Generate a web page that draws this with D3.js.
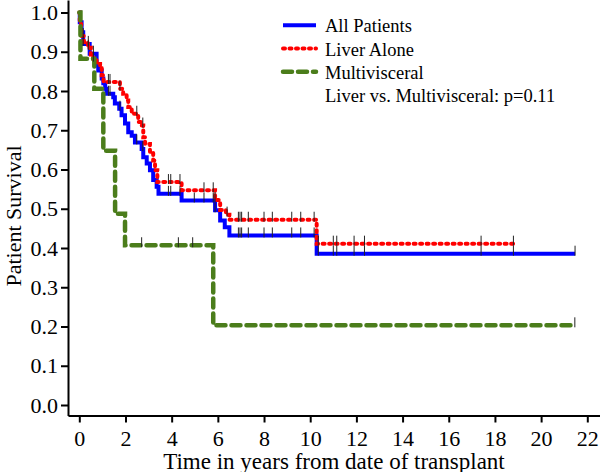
<!DOCTYPE html>
<html>
<head>
<meta charset="utf-8">
<script src="https://cdn.jsdelivr.net/npm/d3@7"></script>
<style>
  html, body { margin: 0; padding: 0; background: #fff; }
  svg { display: block; }
</style>
</head>
<body>
<svg id="chart" width="600" height="472"></svg>
<script>
// ---------------- data ----------------
const seriesNames = ["All Patients", "Liver Alone", "Multivisceral"];
const pValueText = "Liver vs. Multivisceral: p=0.11";

const allTimes = [0, 0.02, 0.1, 0.17, 0.45, 0.75, 0.82, 0.97, 1.04, 1.12, 1.18, 1.47, 1.54, 1.73, 1.83, 1.98, 2.12, 2.27, 2.41, 2.7, 2.77, 2.92, 3.06, 3.2, 3.35, 3.43, 4.43, 5.88, 6.1, 6.3, 6.5, 10.28];
const allSurv  = [1.0, 0.975, 0.95, 0.92, 0.895, 0.865, 0.852, 0.832, 0.82, 0.806, 0.793, 0.784, 0.768, 0.755, 0.738, 0.717, 0.695, 0.686, 0.669, 0.652, 0.631, 0.615, 0.598, 0.573, 0.556, 0.538, 0.521, 0.496, 0.47, 0.453, 0.432, 0.3855];
const allEnd = 21.47;
const allCensor = [0.17, 0.39, 0.61, 1.26, 1.33, 1.76, 2.49, 2.75, 3.86, 3.96, 4.36, 4.98, 5.4, 5.8, 5.88, 6.89, 6.96, 7.03, 7.32, 8.0, 8.36, 9.2, 9.59, 10.17, 10.35, 11.0, 11.15, 11.9, 12.35, 17.4, 18.8, 21.47];

const liverTimes = [0, 0.02, 0.08, 0.2, 0.37, 0.5, 0.6, 0.75, 0.9, 0.97, 1.05, 1.76, 1.9, 2.05, 2.12, 2.27, 2.55, 2.7, 2.77, 2.85, 3.06, 3.2, 3.28, 3.38, 4.43, 5.88, 6.1, 6.35, 6.5, 10.28];
const liverSurv  = [1.0, 0.975, 0.94, 0.925, 0.91, 0.893, 0.88, 0.869, 0.86, 0.84, 0.823, 0.806, 0.793, 0.776, 0.759, 0.742, 0.721, 0.712, 0.682, 0.665, 0.644, 0.623, 0.598, 0.568, 0.547, 0.522, 0.497, 0.485, 0.472, 0.411];
const liverEnd = 18.8;
const liverCensor = [0.17, 0.39, 0.61, 1.26, 1.33, 1.76, 2.49, 2.75, 3.86, 3.96, 4.36, 5.4, 5.8, 5.88, 6.4, 6.89, 6.96, 7.03, 7.32, 8.0, 8.36, 9.2, 9.59, 10.17, 10.35, 11.0, 11.15, 11.9, 12.35, 17.4, 18.8];

const multiTimes = [0, 0.05, 0.65, 1.04, 1.55, 1.98, 5.8];
const multiSurv  = [1.0, 0.882, 0.806, 0.648, 0.487, 0.407, 0.203];
const multiEnd = 21.46;
const multiCensor = [2.7, 4.29, 4.91, 21.46];

const xTicks = [0, 2, 4, 6, 8, 10, 12, 14, 16, 18, 20, 22];
const yTicks = [0, 0.1, 0.2, 0.3, 0.4, 0.5, 0.6, 0.7, 0.8, 0.9, 1.0];

// ---------------- layout ----------------
const FONT = "Liberation Serif, Tinos, DejaVu Serif, serif";
const svg = d3.select("#chart");
const x = d3.scaleLinear().domain([0, 22]).range([79.3, 587.3]);
const y = d3.scaleLinear().domain([0, 1]).range([405, 12.5]);

const spineLeftX = 68, spineBottomY = 415.5;
const xAxisScale = d3.scaleLinear().domain([x.invert(spineLeftX), x.invert(600)]).range([spineLeftX, 600]);
const yAxisScale = d3.scaleLinear().domain([y.invert(spineBottomY), y.invert(0)]).range([spineBottomY, 0]);

// axes
const gx = svg.append("g").attr("transform", `translate(0,${spineBottomY})`)
  .call(d3.axisBottom(xAxisScale).tickValues(xTicks).tickSize(7).tickSizeOuter(0).tickPadding(6).tickFormat(d3.format("d")));
const gy = svg.append("g").attr("transform", `translate(${spineLeftX},0)`)
  .call(d3.axisLeft(yAxisScale).tickValues(yTicks).tickSize(7).tickSizeOuter(0).tickPadding(3).tickFormat(d3.format(".1f")));
[gx, gy].forEach(g => {
  g.attr("font-family", FONT).attr("font-size", 22);
  g.select(".domain").attr("stroke", "#000").attr("stroke-width", 2);
  g.selectAll(".tick line").attr("stroke", "#000").attr("stroke-width", 2);
  g.selectAll(".tick text").attr("fill", "#000");
});
gx.selectAll(".tick text").attr("dy", null).attr("y", 30.5);

// axis titles
svg.append("text").attr("x", 334).attr("y", 469).attr("text-anchor", "middle")
  .attr("font-family", FONT).attr("font-size", 23).text("Time in years from date of transplant");
svg.append("text").attr("transform", "translate(21,216) rotate(-90)").attr("text-anchor", "middle")
  .attr("font-family", FONT).attr("font-size", 22).text("Patient Survival");

// ---------------- curves ----------------
function stepData(times, surv, end) {
  const pts = times.map((t, i) => [t, surv[i]]);
  pts.push([end, surv[surv.length - 1]]);
  return pts;
}
function survAt(times, surv, t) {
  let v = surv[0];
  for (let i = 0; i < times.length; i++) if (times[i] <= t) v = surv[i];
  return v;
}
const line = d3.line().x(d => x(d[0])).y(d => y(d[1])).curve(d3.curveStepAfter);

const series = [
  { name: seriesNames[0], times: allTimes, surv: allSurv, end: allEnd, censor: allCensor, color: "#0000ff", dash: null, cap: "butt", width: 4 },
  { name: seriesNames[1], times: liverTimes, surv: liverSurv, end: liverEnd, censor: liverCensor, color: "#ff0000", dash: "2,4.5", cap: "round", width: 4 },
  { name: seriesNames[2], times: multiTimes, surv: multiSurv, end: multiEnd, censor: multiCensor, color: "#4b7d1b", dash: "9,6", cap: "round", width: 4.5 }
];

series.forEach(s => {
  svg.append("path").datum(stepData(s.times, s.surv, s.end))
    .attr("d", line).attr("fill", "none").attr("stroke", s.color)
    .attr("stroke-width", s.width).attr("stroke-linecap", s.cap).attr("stroke-linejoin", "miter")
    .attr("stroke-dasharray", s.dash);
});
series.forEach(s => {
  svg.append("g").selectAll("line").data(s.censor).join("line")
    .attr("x1", d => x(d)).attr("x2", d => x(d))
    .attr("y1", d => y(survAt(s.times, s.surv, d)) - 8)
    .attr("y2", d => y(survAt(s.times, s.surv, d)) + 2)
    .attr("stroke", "#222").attr("stroke-width", 1);
});

// ---------------- legend ----------------
const legend = svg.append("g").attr("font-family", FONT).attr("font-size", 18.5);
series.forEach((s, i) => {
  const by = 32.3 + i * 23.2;
  legend.append("line").attr("x1", 283).attr("x2", 316).attr("y1", by - 7).attr("y2", by - 7)
    .attr("stroke", s.color).attr("stroke-width", s.width).attr("stroke-linecap", s.cap)
    .attr("stroke-dasharray", s.dash);
  legend.append("text").attr("x", 325).attr("y", by).text(s.name);
});
legend.append("text").attr("x", 325).attr("y", 32.3 + 3 * 23.2).text(pValueText);
</script>
</body>
</html>
